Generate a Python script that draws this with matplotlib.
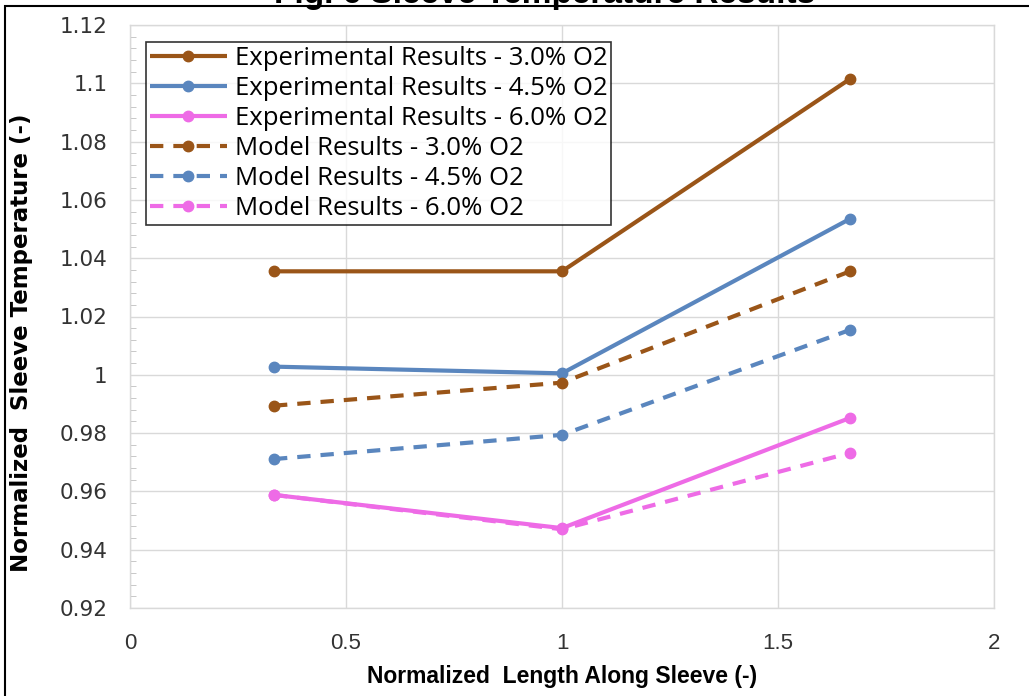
import matplotlib.pyplot as plt
from matplotlib.patches import Rectangle
from matplotlib.ticker import MultipleLocator

# normalized position along the sleeve
x_pos = [1 / 3, 1.0, 5 / 3]

exp_30 = [1.0355, 1.0355, 1.1015]
exp_45 = [1.0028, 1.0005, 1.0535]
exp_60 = [0.9588, 0.9474, 0.9852]
mod_30 = [0.9894, 0.9973, 1.0355]
mod_45 = [0.9711, 0.9794, 1.0154]
mod_60 = [0.9588, 0.9470, 0.9732]

series = [
    (exp_30, "Experimental Results - 3.0% O2", "#9A5518", "-"),
    (exp_45, "Experimental Results - 4.5% O2", "#5A86BE", "-"),
    (exp_60, "Experimental Results - 6.0% O2", "#EE6BE6", "-"),
    (mod_30, "Model Results - 3.0% O2", "#9A5518", (0, (3.2, 2.4))),
    (mod_45, "Model Results - 4.5% O2", "#5A86BE", (0, (3.2, 2.4))),
    (mod_60, "Model Results - 6.0% O2", "#EE6BE6", (0, (3.2, 2.4))),
]

fig = plt.figure(figsize=(10.29, 6.96), dpi=100)
ax = fig.add_axes([130 / 1029, 88 / 696, 864 / 1029, 583 / 696])

for vals, name, col, ls in series:
    ax.plot(x_pos, vals, linestyle=ls, color=col, lw=3, marker="o",
            markersize=7.5, label=name, solid_capstyle="butt",
            dash_capstyle="butt")

ax.set_xlim(0, 2)
ax.set_ylim(0.92, 1.12)
ax.yaxis.set_minor_locator(MultipleLocator(0.004))
ax.grid(True, which="major", color="#D9D9D9", lw=1)
ax.set_axisbelow(True)
for s in ax.spines.values():
    s.set_color("#D9D9D9")
    s.set_linewidth(1)

ax.set_xticks([0, 0.5, 1, 1.5, 2], ["0", "0.5", "1", "1.5", "2"])
ax.set_yticks([0.92 + 0.02 * i for i in range(11)],
              ["0.92", "0.94", "0.96", "0.98", "1", "1.02", "1.04", "1.06",
               "1.08", "1.1", "1.12"])
ax.tick_params(axis="x", length=0, pad=18, labelsize=16, labelcolor="#333333")
ax.tick_params(axis="y", which="major", length=0, pad=16, labelsize=15.5,
               labelcolor="#333333")
ax.tick_params(axis="y", which="minor", direction="in", length=4,
               color="#BFBFBF")
for lbl in ax.get_xticklabels():
    lbl.set_family("Liberation Sans")

ax.set_xlabel("Normalized  Length Along Sleeve (-)", fontsize=16.5,
              fontweight="bold", family="Liberation Sans", labelpad=8)
ax.set_ylabel("Normalized  Sleeve Temperature (-)", fontsize=16.5,
              fontweight="bold")
ax.yaxis.set_label_coords(-0.112, 0.455)

leg = ax.legend(loc="upper left", bbox_to_anchor=(0.0185, 0.971),
                prop={"family": "Open Sans", "size": 18.5}, frameon=True,
                fancybox=False, handlelength=3.0, handletextpad=0.3,
                borderpad=0.15, labelspacing=0.2, borderaxespad=0)
leg.get_frame().set_edgecolor("black")
leg.get_frame().set_linewidth(1.2)

# outer frame and clipped heading
fig.patches.append(Rectangle((5 / 1029, -0.05), 1.1, 1 - 6 / 696 + 0.05,
                             transform=fig.transFigure, fill=False,
                             edgecolor="black", lw=1.5))
fig.text(545 / 1029, 1 - 2.5 / 696, "Fig. 6 Sleeve Temperature Results",
         ha="center", va="baseline", fontsize=24, fontweight="bold",
         family="Liberation Sans")

fig.savefig("out.png", dpi=100)
